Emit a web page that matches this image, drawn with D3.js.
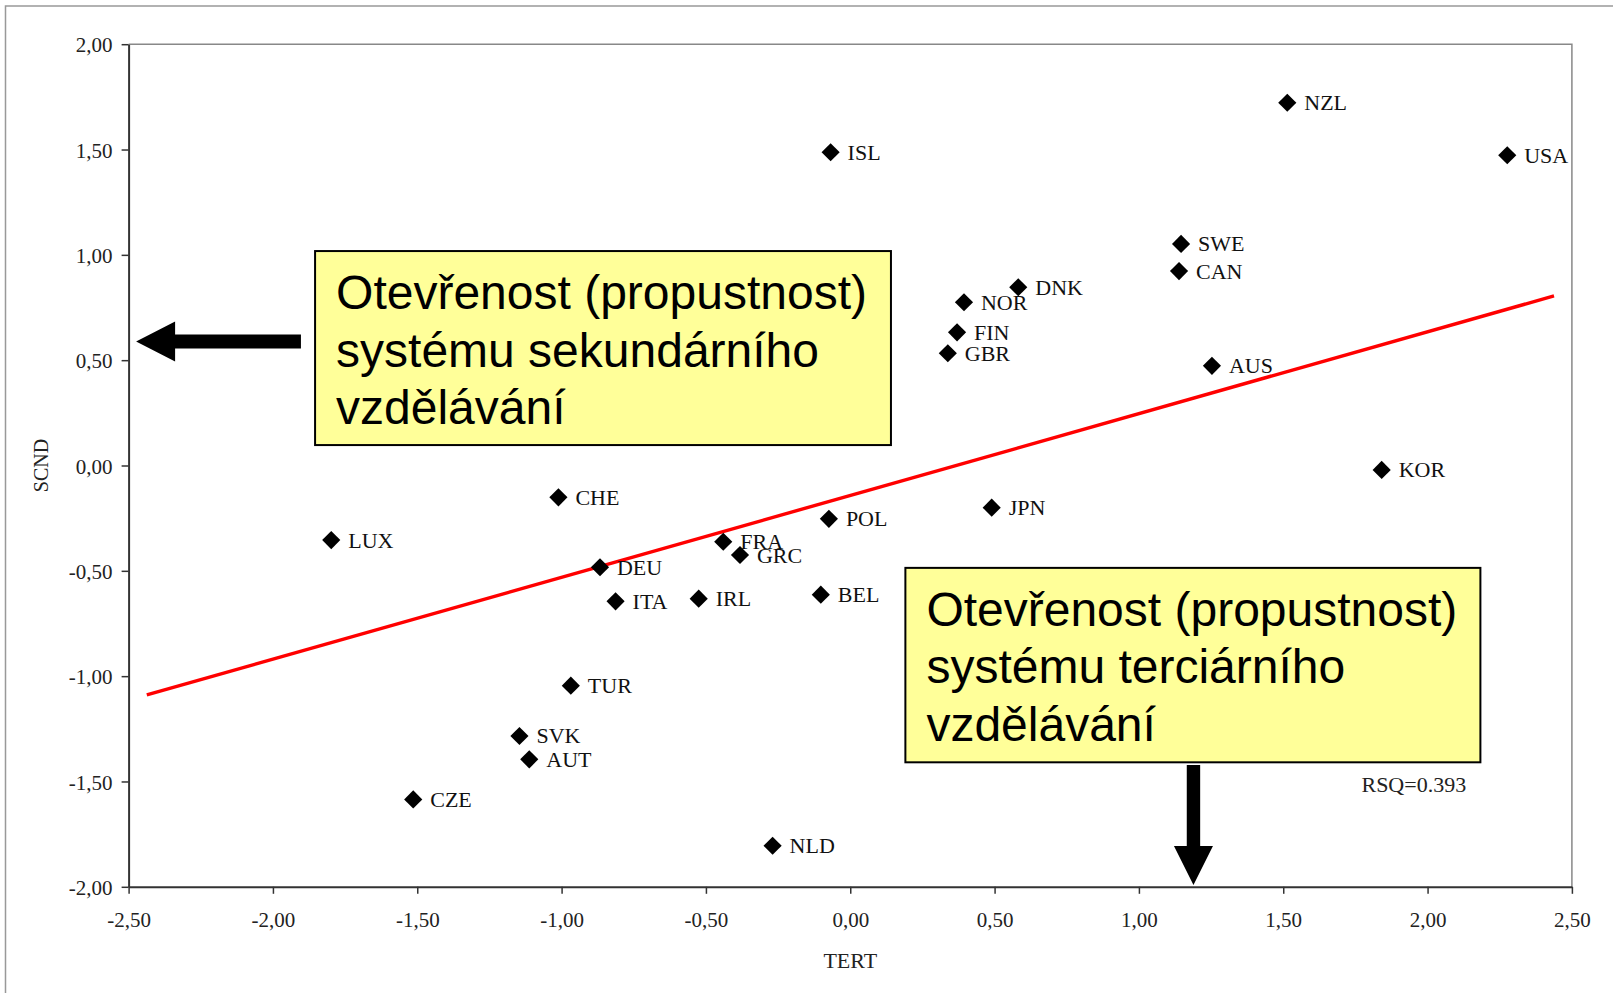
<!DOCTYPE html>
<html>
<head>
<meta charset="utf-8">
<script src="https://cdn.jsdelivr.net/npm/d3@7"></script>
<style>
    body { margin: 0; background: #fff; }
    svg { display: block; }
    .tick text { font-family: "Liberation Serif", "Times New Roman", serif; font-size: 21px; fill: #222; }
</style>
</head>
<body>
<div id="chart"></div>
<script>
// country codes with TERT (x) and SCND (y) scores
const countries = ['NZL', 'USA', 'ISL', 'SWE', 'CAN', 'DNK', 'NOR', 'FIN', 'GBR', 'AUS', 'KOR', 'CHE', 'JPN',
    'POL', 'LUX', 'FRA', 'GRC', 'DEU', 'BEL', 'ITA', 'IRL', 'TUR', 'SVK', 'AUT', 'CZE', 'NLD'];
const tert = [1.514, 2.276, -0.068, 1.146, 1.139, 0.582, 0.394, 0.370, 0.338, 1.253, 1.841, -1.011, 0.490,
    -0.074, -1.798, -0.440, -0.382, -0.867, -0.102, -0.813, -0.525, -0.968, -1.146, -1.112, -1.514, -0.269];
const scnd = [1.722, 1.473, 1.487, 1.052, 0.923, 0.846, 0.775, 0.632, 0.533, 0.473, -0.021, -0.151, -0.200,
    -0.253, -0.354, -0.362, -0.425, -0.483, -0.613, -0.645, -0.632, -1.045, -1.284, -1.395, -1.585, -1.805];

// fit line as drawn in the chart
const fitX = [-2.437, 2.438];
const fitY = [-1.089, 0.805];
const rsqText = 'RSQ=0.393';

const xTicks = [-2.5, -2, -1.5, -1, -0.5, 0, 0.5, 1, 1.5, 2, 2.5];
const yTicks = [-2, -1.5, -1, -0.5, 0, 0.5, 1, 1.5, 2];

const boxLines1 = ['Otevřenost (propustnost)', 'systému sekundárního', 'vzdělávání'];
const boxLines2 = ['Otevřenost (propustnost)', 'systému terciárního', 'vzdělávání'];

const W = 1613, H = 993;
const margin = { top: 44.2, right: 41.1, bottom: 106.2, left: 128.6 },
    width = W - margin.left - margin.right,
    height = H - margin.top - margin.bottom;

const locale = d3.formatLocale({ decimal: ',', thousands: ' ', grouping: [3], currency: ['', ''], minus: '-' });
const fmt = locale.format('.2f');

const x = d3.scaleLinear().domain([-2.5, 2.5]).range([0, width]);
const y = d3.scaleLinear().domain([-2, 2]).range([height, 0]);

const svg = d3.select('#chart')
    .append('svg')
    .attr('width', W)
    .attr('height', H);

// outer frame of the picture
svg.append('path')
    .attr('d', `M5.5,${H} V6 H${W}`)
    .style('fill', 'none')
    .style('stroke', '#999')
    .style('stroke-width', 1.5);

const g = svg.append('g')
    .attr('transform', `translate(${margin.left},${margin.top})`);

// top and right frame lines
g.append('path')
    .attr('d', `M0,0 H${width} V${height}`)
    .style('fill', 'none')
    .style('stroke', '#888')
    .style('stroke-width', 1.5);

const xAxis = g.append('g')
    .attr('transform', `translate(0,${height})`)
    .call(d3.axisBottom(x).tickValues(xTicks).tickFormat(fmt).tickSize(7).tickSizeOuter(0).tickPadding(18));

const yAxis = g.append('g')
    .call(d3.axisLeft(y).tickValues(yTicks).tickFormat(fmt).tickSize(7).tickSizeOuter(0).tickPadding(9));

[xAxis, yAxis].forEach(a => {
    a.select('.domain').style('stroke', '#333').style('stroke-width', 2);
    a.selectAll('.tick line').style('stroke', '#333').style('stroke-width', 1.5);
});
yAxis.selectAll('.tick text').attr('dy', '0.36em');

// axis titles
g.append('text')
    .attr('x', width / 2)
    .attr('y', height + 81)
    .attr('text-anchor', 'middle')
    .style('font-family', '"Liberation Serif", serif')
    .style('font-size', '22px')
    .style('fill', '#222')
    .text('TERT');

g.append('text')
    .attr('transform', `translate(${48 - margin.left},${height / 2}) rotate(-90)`)
    .attr('text-anchor', 'middle')
    .style('font-family', '"Liberation Serif", serif')
    .style('font-size', '20px')
    .style('fill', '#222')
    .text('SCND');

// fit line
g.append('line')
    .attr('x1', x(fitX[0]))
    .attr('y1', y(fitY[0]))
    .attr('x2', x(fitX[1]))
    .attr('y2', y(fitY[1]))
    .style('stroke', '#ff0000')
    .style('stroke-width', 3.4);

// points
const points = countries.map((c, i) => ({ name: c, tert: tert[i], scnd: scnd[i] }));
const diamond = d3.symbol().type(d3.symbolSquare).size(165);

g.selectAll('.pt')
    .data(points)
    .enter()
    .append('path')
    .attr('class', 'pt')
    .attr('d', diamond)
    .attr('transform', d => `translate(${x(d.tert)},${y(d.scnd)}) rotate(45)`)
    .style('fill', '#000');

g.selectAll('.lbl')
    .data(points)
    .enter()
    .append('text')
    .attr('class', 'lbl')
    .attr('x', d => x(d.tert) + 17)
    .attr('y', d => y(d.scnd) + 7.5)
    .style('font-family', '"Liberation Serif", serif')
    .style('font-size', '22px')
    .style('fill', '#111')
    .text(d => d.name);

g.append('text')
    .attr('x', x(1.771))
    .attr('y', y(-1.549))
    .style('font-family', '"Liberation Serif", serif')
    .style('font-size', '22px')
    .style('fill', '#222')
    .text(rsqText);

// annotation boxes, placed in data units
function box(x0, y0, x1, y1, lines) {
    const bx = x(x0), by = y(y0);
    g.append('rect')
        .attr('x', bx)
        .attr('y', by)
        .attr('width', x(x1) - bx)
        .attr('height', y(y1) - by)
        .style('fill', '#ffff99')
        .style('stroke', '#000')
        .style('stroke-width', 2);
    g.append('text')
        .style('font-family', '"Liberation Sans", Arial, sans-serif')
        .style('font-size', '48px')
        .style('fill', '#000')
        .selectAll('tspan')
        .data(lines)
        .enter()
        .append('tspan')
        .attr('x', bx + 21)
        .attr('y', (d, i) => by + 58 + i * 57.5)
        .text(d => d);
}

box(-1.854, 1.018, 0.141, 0.097, boxLines1);
box(0.191, -0.486, 2.183, -1.409, boxLines2);

// left arrow towards the SCND axis
const ay = y(0.589), tail = x(-1.903), tip = x(-2.474);
g.append('path')
    .attr('d', `M${tail},${ay - 7} H${tip + 39} V${ay - 20} L${tip},${ay} L${tip + 39},${ay + 20} V${ay + 7} H${tail} Z`)
    .style('fill', '#000');

// down arrow towards the TERT axis
const ax = x(1.189), arrowTop = y(-1.422), arrowBot = y(-1.991);
g.append('path')
    .attr('d', `M${ax - 6.7},${arrowTop} V${arrowBot - 39} H${ax - 19.5} L${ax},${arrowBot} L${ax + 19.5},${arrowBot - 39} H${ax + 6.7} V${arrowTop} Z`)
    .style('fill', '#000');
</script>
</body>
</html>
